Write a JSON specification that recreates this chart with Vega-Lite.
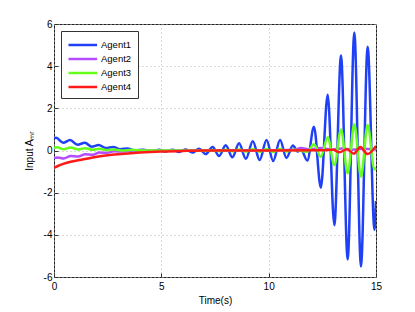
{
  "$schema": "https://vega.github.io/schema/vega-lite/v6.json",
  "width": 322,
  "height": 253,
  "autosize": {"type": "none"},
  "padding": {"left": 54, "top": 24, "right": 39, "bottom": 35},
  "background": "white",
  "config": {
    "font": "Liberation Sans",
    "view": {"stroke": "#222222", "strokeWidth": 1},
    "axis": {
      "domain": false,
      "grid": true,
      "gridColor": "#b4b4b4",
      "gridDash": [1, 3],
      "gridWidth": 1,
      "tickColor": "#333333",
      "tickSize": -4,
      "labelFlush": false,
      "labelFontSize": 10,
      "labelColor": "black",
      "titleFontSize": 10,
      "titleFontWeight": "normal",
      "titleColor": "black"
    }
  },
  "data": {
    "values": [
      {"t": 0, "agent": "Agent1", "u": 0.58}, {"t": 0.1, "agent": "Agent1", "u": 0.6}, {"t": 0.43, "agent": "Agent1", "u": 0.37}, {"t": 0.75, "agent": "Agent1", "u": 0.5}, {"t": 1.09, "agent": "Agent1", "u": 0.27}, {"t": 1.44, "agent": "Agent1", "u": 0.37}, {"t": 1.76, "agent": "Agent1", "u": 0.18}, {"t": 2.08, "agent": "Agent1", "u": 0.26}, {"t": 2.42, "agent": "Agent1", "u": 0.12}, {"t": 2.76, "agent": "Agent1", "u": 0.17}, {"t": 3.08, "agent": "Agent1", "u": 0.06}, {"t": 3.42, "agent": "Agent1", "u": 0.1}, {"t": 3.78, "agent": "Agent1", "u": 0.01}, {"t": 4.15, "agent": "Agent1", "u": 0.04}, {"t": 4.58, "agent": "Agent1", "u": -0.04}, {"t": 4.89, "agent": "Agent1", "u": 0.03}, {"t": 5.2, "agent": "Agent1", "u": -0.05}, {"t": 5.52, "agent": "Agent1", "u": 0.04}, {"t": 5.83, "agent": "Agent1", "u": -0.07}, {"t": 6.14, "agent": "Agent1", "u": 0.05}, {"t": 6.45, "agent": "Agent1", "u": -0.1}, {"t": 6.76, "agent": "Agent1", "u": 0.08}, {"t": 7.07, "agent": "Agent1", "u": -0.17}, {"t": 7.39, "agent": "Agent1", "u": 0.17}, {"t": 7.69, "agent": "Agent1", "u": -0.26}, {"t": 8.0, "agent": "Agent1", "u": 0.25}, {"t": 8.31, "agent": "Agent1", "u": -0.32}, {"t": 8.62, "agent": "Agent1", "u": 0.34}, {"t": 8.94, "agent": "Agent1", "u": -0.39}, {"t": 9.26, "agent": "Agent1", "u": 0.44}, {"t": 9.58, "agent": "Agent1", "u": -0.45}, {"t": 9.9, "agent": "Agent1", "u": 0.5}, {"t": 10.21, "agent": "Agent1", "u": -0.5}, {"t": 10.53, "agent": "Agent1", "u": 0.5}, {"t": 10.83, "agent": "Agent1", "u": -0.35}, {"t": 11.13, "agent": "Agent1", "u": 0.24}, {"t": 11.35, "agent": "Agent1", "u": -0.05}, {"t": 11.5, "agent": "Agent1", "u": 0.06}, {"t": 11.8, "agent": "Agent1", "u": -0.48}, {"t": 12.11, "agent": "Agent1", "u": 1.13}, {"t": 12.43, "agent": "Agent1", "u": -1.76}, {"t": 12.75, "agent": "Agent1", "u": 2.65}, {"t": 13.06, "agent": "Agent1", "u": -3.54}, {"t": 13.37, "agent": "Agent1", "u": 4.5}, {"t": 13.68, "agent": "Agent1", "u": -5.17}, {"t": 13.99, "agent": "Agent1", "u": 5.6}, {"t": 14.3, "agent": "Agent1", "u": -5.5}, {"t": 14.61, "agent": "Agent1", "u": 4.92}, {"t": 14.93, "agent": "Agent1", "u": -3.76}, {"t": 15, "agent": "Agent1", "u": -2.4},

      {"t": 0, "agent": "Agent2", "u": -0.36}, {"t": 0.18, "agent": "Agent2", "u": -0.33}, {"t": 0.45, "agent": "Agent2", "u": -0.38}, {"t": 0.78, "agent": "Agent2", "u": -0.26}, {"t": 1.12, "agent": "Agent2", "u": -0.29}, {"t": 1.46, "agent": "Agent2", "u": -0.18}, {"t": 1.8, "agent": "Agent2", "u": -0.2}, {"t": 2.12, "agent": "Agent2", "u": -0.1}, {"t": 2.46, "agent": "Agent2", "u": -0.11}, {"t": 2.8, "agent": "Agent2", "u": -0.04}, {"t": 3.2, "agent": "Agent2", "u": -0.05}, {"t": 3.7, "agent": "Agent2", "u": 0}, {"t": 6, "agent": "Agent2", "u": 0}, {"t": 10.5, "agent": "Agent2", "u": 0.01}, {"t": 11.2, "agent": "Agent2", "u": 0.03}, {"t": 11.5, "agent": "Agent2", "u": 0.12}, {"t": 11.9, "agent": "Agent2", "u": 0.04}, {"t": 12.4, "agent": "Agent2", "u": 0.12}, {"t": 12.9, "agent": "Agent2", "u": 0.04}, {"t": 13.4, "agent": "Agent2", "u": 0.1}, {"t": 13.9, "agent": "Agent2", "u": 0.04}, {"t": 14.4, "agent": "Agent2", "u": 0.08}, {"t": 15, "agent": "Agent2", "u": 0.05},

      {"t": 0, "agent": "Agent3", "u": 0.13}, {"t": 0.15, "agent": "Agent3", "u": 0.15}, {"t": 0.45, "agent": "Agent3", "u": 0.06}, {"t": 0.78, "agent": "Agent3", "u": 0.14}, {"t": 1.12, "agent": "Agent3", "u": 0.05}, {"t": 1.46, "agent": "Agent3", "u": 0.11}, {"t": 1.8, "agent": "Agent3", "u": 0.03}, {"t": 2.12, "agent": "Agent3", "u": 0.08}, {"t": 2.46, "agent": "Agent3", "u": 0.02}, {"t": 2.8, "agent": "Agent3", "u": 0.05}, {"t": 3.2, "agent": "Agent3", "u": 0.0}, {"t": 3.6, "agent": "Agent3", "u": 0.03}, {"t": 4.2, "agent": "Agent3", "u": 0}, {"t": 7.07, "agent": "Agent3", "u": -0.01}, {"t": 7.39, "agent": "Agent3", "u": 0.02}, {"t": 7.69, "agent": "Agent3", "u": -0.03}, {"t": 8.0, "agent": "Agent3", "u": 0.03}, {"t": 8.31, "agent": "Agent3", "u": -0.04}, {"t": 8.62, "agent": "Agent3", "u": 0.05}, {"t": 8.94, "agent": "Agent3", "u": -0.05}, {"t": 9.26, "agent": "Agent3", "u": 0.06}, {"t": 9.58, "agent": "Agent3", "u": -0.06}, {"t": 9.9, "agent": "Agent3", "u": 0.07}, {"t": 10.21, "agent": "Agent3", "u": -0.07}, {"t": 10.53, "agent": "Agent3", "u": 0.07}, {"t": 10.83, "agent": "Agent3", "u": -0.05}, {"t": 11.13, "agent": "Agent3", "u": 0.04}, {"t": 11.8, "agent": "Agent3", "u": -0.06}, {"t": 12.11, "agent": "Agent3", "u": 0.3}, {"t": 12.43, "agent": "Agent3", "u": -0.3}, {"t": 12.75, "agent": "Agent3", "u": 0.63}, {"t": 13.06, "agent": "Agent3", "u": -0.69}, {"t": 13.37, "agent": "Agent3", "u": 1.0}, {"t": 13.68, "agent": "Agent3", "u": -1.08}, {"t": 13.99, "agent": "Agent3", "u": 1.24}, {"t": 14.3, "agent": "Agent3", "u": -1.24}, {"t": 14.61, "agent": "Agent3", "u": 1.21}, {"t": 14.93, "agent": "Agent3", "u": -0.9}, {"t": 15, "agent": "Agent3", "u": -0.8},

      {"t": 0, "agent": "Agent4", "u": -0.82}, {"t": 0.3, "agent": "Agent4", "u": -0.68}, {"t": 0.6, "agent": "Agent4", "u": -0.58}, {"t": 1.2, "agent": "Agent4", "u": -0.45}, {"t": 1.8, "agent": "Agent4", "u": -0.33}, {"t": 2.6, "agent": "Agent4", "u": -0.21}, {"t": 3.3, "agent": "Agent4", "u": -0.15}, {"t": 4, "agent": "Agent4", "u": -0.1}, {"t": 5, "agent": "Agent4", "u": -0.05}, {"t": 6, "agent": "Agent4", "u": -0.02}, {"t": 7, "agent": "Agent4", "u": 0}, {"t": 12.5, "agent": "Agent4", "u": 0.01}, {"t": 13, "agent": "Agent4", "u": 0.03}, {"t": 13.3, "agent": "Agent4", "u": -0.08}, {"t": 13.65, "agent": "Agent4", "u": 0.06}, {"t": 13.97, "agent": "Agent4", "u": -0.15}, {"t": 14.27, "agent": "Agent4", "u": 0.17}, {"t": 14.6, "agent": "Agent4", "u": -0.17}, {"t": 15, "agent": "Agent4", "u": 0.22}
    ]
  },
  "mark": {"type": "line", "strokeWidth": 2.5, "interpolate": "monotone", "clip": true},
  "encoding": {
    "x": {
      "field": "t", "type": "quantitative",
      "scale": {"domain": [0, 15], "nice": false},
      "axis": {"values": [0, 5, 10, 15], "title": "Time(s)", "labelPadding": 8, "titlePadding": 4}
    },
    "y": {
      "field": "u", "type": "quantitative",
      "scale": {"domain": [-6, 6], "nice": false},
      "axis": {"values": [-6, -4, -2, 0, 2, 4, 6], "title": "Input Aₘᵣ", "labelExpr": "datum.value + ''", "labelPadding": 6, "titlePadding": 9}
    },
    "color": {
      "field": "agent", "type": "nominal",
      "scale": {"domain": ["Agent1", "Agent2", "Agent3", "Agent4"], "range": ["#2040f5", "#b44cff", "#66ff1a", "#ff1a1a"]},
      "legend": {
        "title": null,
        "orient": "top-left",
        "offset": 7,
        "padding": 6,
        "fillColor": "white",
        "strokeColor": "#333333",
        "symbolType": "M-1,0L3.4,0",
        "symbolSize": 169,
        "symbolStrokeWidth": 2.5,
        "labelFontSize": 9.5,
        "labelColor": "black",
        "labelOffset": 18,
        "rowPadding": 1
      }
    }
  }
}
